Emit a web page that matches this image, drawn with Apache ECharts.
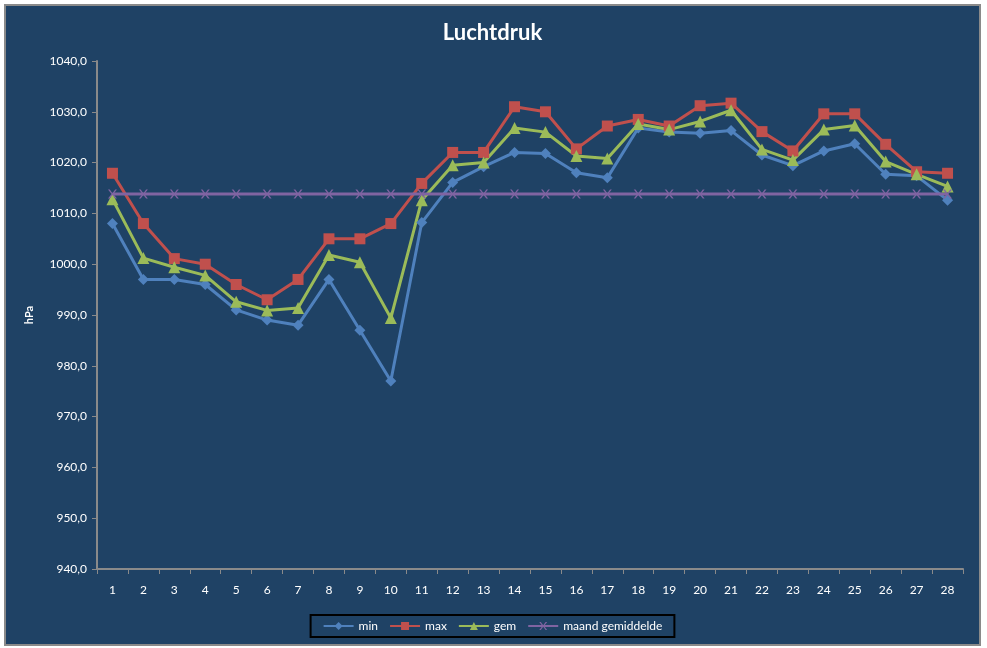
<!DOCTYPE html>
<html>
<head>
<meta charset="utf-8">
<script src="https://cdn.jsdelivr.net/npm/echarts@6/dist/echarts.min.js"></script>
<style>
  html, body { margin: 0; padding: 0; background: #ffffff; }
  #frame { position: absolute; left: 4px; top: 4px; width: 973px; height: 638px;
           border: 2px solid #8a8a8a; background: #1f4265; }
  #chart { width: 973px; height: 638px; }
</style>
</head>
<body>
<div id="frame"><div id="chart"></div></div>
<script>
// dagen van de maand
var dagen = ['1','2','3','4','5','6','7','8','9','10','11','12','13','14','15','16','17','18','19','20','21','22','23','24','25','26','27','28'];

// luchtdruk in hPa
var minData = [1008.0, 997.0, 997.0, 996.0, 991.0, 989.0, 988.0, 997.0, 987.0, 977.0, 1008.2, 1016.1, 1019.2, 1022.0,
               1021.8, 1018.0, 1017.0, 1026.8, 1026.0, 1025.8, 1026.3, 1021.5, 1019.4, 1022.3, 1023.7, 1017.7, 1017.4, 1012.6];
var maxData = [1017.9, 1008.0, 1001.1, 1000.0, 996.0, 993.0, 997.0, 1005.0, 1005.0, 1008.0, 1015.9, 1022.0, 1022.0, 1031.0,
               1030.0, 1022.7, 1027.2, 1028.5, 1027.2, 1031.2, 1031.7, 1026.1, 1022.3, 1029.6, 1029.6, 1023.6, 1018.2, 1017.9];
var gemData = [1012.8, 1001.2, 999.4, 997.8, 992.6, 990.9, 991.4, 1001.8, 1000.4, 989.4, 1012.6, 1019.5, 1020.0, 1026.8,
               1026.0, 1021.3, 1020.8, 1027.6, 1026.5, 1028.1, 1030.3, 1022.6, 1020.5, 1026.5, 1027.3, 1020.2, 1017.7, 1015.3];
var maandData = [1013.8, 1013.8, 1013.8, 1013.8, 1013.8, 1013.8, 1013.8, 1013.8, 1013.8, 1013.8, 1013.8, 1013.8, 1013.8, 1013.8,
                 1013.8, 1013.8, 1013.8, 1013.8, 1013.8, 1013.8, 1013.8, 1013.8, 1013.8, 1013.8, 1013.8, 1013.8, 1013.8, 1013.8];

var yMin = 940, yMax = 1040, yStep = 10;

var kruis = 'path://M0,0L2,0L5,4L8,0L10,0L6,5L10,10L8,10L5,6L2,10L0,10L4,5Z';
var fontNaam = 'Lato, "Open Sans", sans-serif';

function lijn(naam, data, kleur, symbool, grootte) {
  return {
    name: naam,
    type: 'line',
    data: data,
    symbol: symbool,
    symbolSize: grootte,
    showAllSymbol: true,
    lineStyle: { color: kleur, width: 3 },
    itemStyle: { color: kleur },
    emphasis: { disabled: true },
    animation: false
  };
}

var chart = echarts.init(document.getElementById('chart'));
chart.setOption({
  backgroundColor: '#1f4265',
  textStyle: { fontFamily: fontNaam },
  title: {
    text: 'Luchtdruk',
    left: 'center',
    top: 11,
    textStyle: { color: '#ffffff', fontSize: 22, fontWeight: 'bold', fontFamily: fontNaam }
  },
  legend: {
    bottom: 7,
    left: 'center',
    padding: [5, 12],
    borderColor: '#000000',
    borderWidth: 2,
    itemWidth: 30,
    itemHeight: 10,
    itemGap: 11,
    textStyle: { color: '#ffffff', fontSize: 12 },
    data: ['min', 'max', 'gem', 'maand gemiddelde']
  },
  grid: { left: 91, right: 16, top: 55, bottom: 75 },
  xAxis: {
    type: 'category',
    data: dagen,
    boundaryGap: true,
    axisLine: { lineStyle: { color: '#8a8a8a', width: 2 } },
    axisTick: { show: true, alignWithLabel: false, length: 5, lineStyle: { color: '#8a8a8a' } },
    axisLabel: { color: '#ffffff', fontSize: 12, margin: 15 },
    splitLine: { show: false }
  },
  yAxis: {
    type: 'value',
    min: yMin,
    max: yMax,
    interval: yStep,
    name: 'hPa',
    nameLocation: 'middle',
    nameGap: 62,
    nameRotate: 90,
    nameTextStyle: { color: '#ffffff', fontSize: 11, fontWeight: 'bold' },
    axisLine: { show: true, lineStyle: { color: '#8a8a8a', width: 2 } },
    axisTick: { show: true, length: 5, lineStyle: { color: '#8a8a8a' } },
    axisLabel: {
      color: '#ffffff', fontSize: 12, margin: 10,
      formatter: function (v) { return v.toFixed(1).replace('.', ','); }
    },
    splitLine: { show: false }
  },
  series: [
    lijn('min', minData, '#4f81bd', 'diamond', 11),
    lijn('max', maxData, '#c0504d', 'rect', 11),
    lijn('gem', gemData, '#9bbb59', 'triangle', 12),
    lijn('maand gemiddelde', maandData, '#8064a2', kruis, 9)
  ]
});
</script>
</body>
</html>
